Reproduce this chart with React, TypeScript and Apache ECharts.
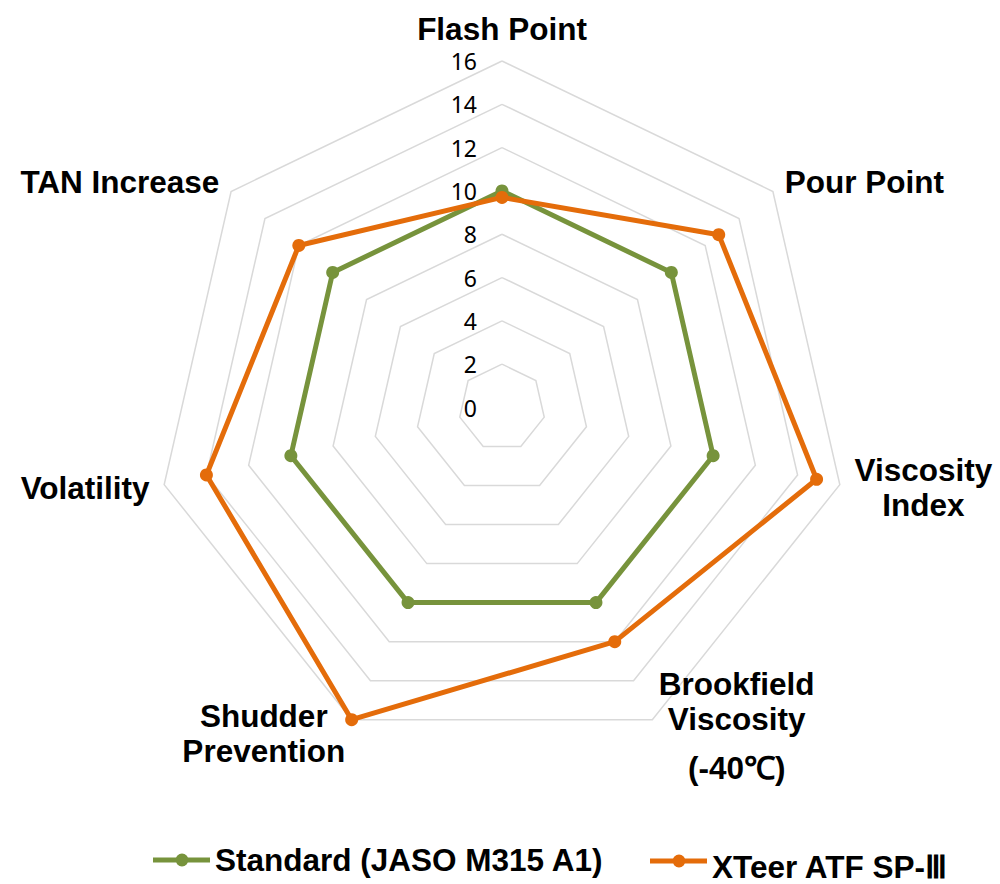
import { useEffect, useRef } from 'react';
import * as echarts from 'echarts';

// Categories in clockwise order starting from the top
const categories = [
  'Flash Point',
  'Pour Point',
  'Viscosity\nIndex',
  'Brookfield\nViscosity\n(-40℃)',
  'Shudder\nPrevention',
  'Volatility',
  'TAN Increase',
];
const standardValues = [10, 10, 10, 10, 10, 10, 10];
const xteerValues = [9.7, 12.8, 14.9, 12, 16, 14, 12];
const seriesNames = ['Standard (JASO M315 A1)', 'XTeer ATF SP-Ⅲ'];
const seriesColors = ['#77933C', '#E46C0A'];
const axisMin = 0;
const axisMax = 16;
const splitCount = 8;

// ECharts lays radar indicators out counter-clockwise; reorder to get clockwise.
const displayOrder = [0, 6, 5, 4, 3, 2, 1];

const BOLD_FONT = '"Liberation Sans", Arial, sans-serif';
const legendIcon =
  'path://M0,5.5 H23 V10.5 H0 Z M34.5,5.5 H57 V10.5 H34.5 Z M35.5,8 A6.5,6.5 0 1 1 22.5,8 A6.5,6.5 0 1 1 35.5,8 Z';

export default function App() {
  const ref = useRef<HTMLDivElement>(null);

  useEffect(() => {
    if (!ref.current) return;
    const chart = echarts.init(ref.current, null, { renderer: 'svg' });

    const indicator = displayOrder.map((ci, k) => {
      const ind: any = { name: categories[ci], min: axisMin, max: axisMax };
      if (k > 0) ind.axisLabel = { show: false };
      return ind;
    });

    const nameRich = {
      fontSize: 31.5,
      fontWeight: 'bold' as const,
      fontFamily: BOLD_FONT,
      color: '#000',
      align: 'center' as const,
    };

    const legendText = {
      fontSize: 31.5,
      fontWeight: 'bold' as const,
      fontFamily: BOLD_FONT,
      color: '#000',
      lineHeight: 34,
    };

    chart.setOption({
      animation: false,
      backgroundColor: '#fff',
      radar: {
        center: [502, 407.5],
        radius: 346.5,
        startAngle: 90,
        splitNumber: splitCount,
        shape: 'polygon',
        indicator,
        nameGap: 15,
        axisName: {
          color: '#000',
          fontSize: 31.5,
          fontWeight: 'bold',
          fontFamily: BOLD_FONT,
          formatter: (name: string) =>
            name
              .split('\n')
              .map((l, i) => (i === 2 ? `{t|${l}}` : `{n|${l}}`))
              .join('\n'),
          rich: {
            n: { ...nameRich, lineHeight: 35 },
            t: { ...nameRich, lineHeight: 64 },
          },
        },
        axisLine: { show: false },
        axisTick: { show: false },
        axisLabel: {
          show: true,
          margin: 25,
          fontSize: 23,
          fontFamily: '"Noto Sans", "Open Sans", sans-serif',
          color: '#000',
        },
        splitLine: { lineStyle: { color: '#D9D9D9', width: 1.5 } },
        splitArea: { show: false },
      },
      legend: [
        {
          data: [seriesNames[0]],
          left: 153,
          top: 843,
          padding: 0,
          icon: legendIcon,
          itemWidth: 57,
          itemHeight: 16,
          selectedMode: false,
          textStyle: legendText,
        },
        {
          data: [seriesNames[1]],
          left: 650,
          top: 839,
          padding: 0,
          icon: legendIcon,
          itemWidth: 57,
          itemHeight: 16,
          selectedMode: false,
          formatter: '{p|{name}}',
          textStyle: {
            ...legendText,
            rich: { p: { ...legendText, padding: [12, 0, 0, 0] } },
          },
        },
      ],
      series: [
        {
          type: 'radar',
          symbol: 'circle',
          symbolSize: 13,
          data: [
            {
              name: seriesNames[0],
              value: displayOrder.map((i) => standardValues[i]),
              itemStyle: { color: seriesColors[0] },
              lineStyle: { color: seriesColors[0], width: 5 },
            },
            {
              name: seriesNames[1],
              value: displayOrder.map((i) => xteerValues[i]),
              itemStyle: { color: seriesColors[1] },
              lineStyle: { color: seriesColors[1], width: 5 },
            },
          ],
        },
      ],
    });

    return () => chart.dispose();
  }, []);

  return (
    <div
      ref={ref}
      style={{ position: 'absolute', left: 0, top: 0, width: 1000, height: 884 }}
    />
  );
}
